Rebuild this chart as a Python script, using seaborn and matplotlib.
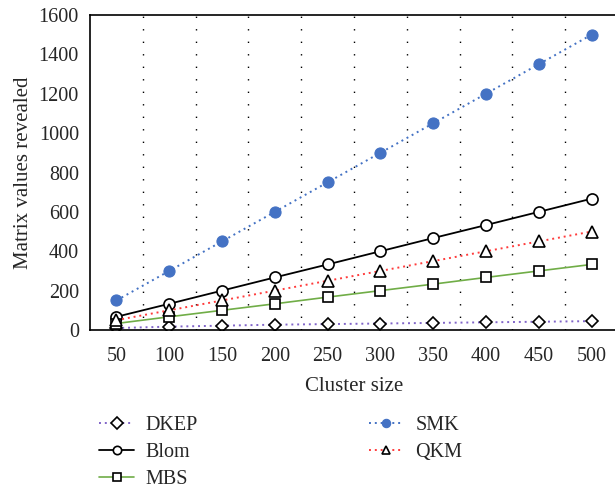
import numpy as np
import pandas as pd
import matplotlib
matplotlib.use("Agg")
import matplotlib.pyplot as plt
import matplotlib.ticker as mticker
import seaborn as sns

# =====================================================
# DATA
# =====================================================

cluster_size = ["50", "100", "150", "200", "250", "300", "350", "400", "450", "500"]

dkep = [10, 17, 22, 27, 30, 33, 36, 39, 42, 45]
blom = [67, 133, 200, 267, 333, 400, 467, 533, 600, 667]
mbs = [33, 67, 100, 133, 167, 200, 233, 267, 300, 333]
smk = [150, 300, 450, 600, 750, 900, 1050, 1200, 1350, 1500]
qkm = [50, 100, 150, 200, 250, 300, 350, 400, 450, 500]

y_ticks = [0, 200, 400, 600, 800, 1000, 1200, 1400, 1600]

# =====================================================
# STYLE
# =====================================================

sns.set_style("white")
plt.rcParams["font.family"] = ["Liberation Serif", "DejaVu Serif"]

dotted = (0, (1, 2))

series = [
    ("DKEP", dkep, dict(color="#8064c8", linestyle=dotted, lw=1.4, marker="D",
                        markersize=6.5, mfc="white", mec="black", mew=1.2)),
    ("Blom", blom, dict(color="black", linestyle="-", lw=1.3, marker="o",
                        markersize=8, mfc="white", mec="black", mew=1.2)),
    ("MBS", mbs, dict(color="#70ad47", linestyle="-", lw=1.2, marker="s",
                      markersize=7.5, mfc="white", mec="black", mew=1.2)),
    ("SMK", smk, dict(color="#4472c4", linestyle=dotted, lw=1.4, marker="o",
                      markersize=8, mfc="#4472c4", mec="#4472c4", mew=0.8)),
    ("QKM", qkm, dict(color="#ff3b3b", linestyle=dotted, lw=1.4, marker="^",
                      markersize=8, mfc="white", mec="black", mew=1.2)),
]

fig = plt.figure(figsize=(6.15, 4.91), dpi=100)
ax = fig.add_axes([90 / 615, 161 / 491, 528 / 615, 315 / 491])

for name, vals, kw in series:
    df = pd.DataFrame({"Cluster size": cluster_size, "value": vals})
    sns.lineplot(data=df, x="Cluster size", y="value", ax=ax, label=name,
                 sort=False, **kw)

# =====================================================
# AXES
# =====================================================

ax.set_xlim(-0.5, len(cluster_size) - 0.5)
ax.set_ylim(0, 1600)
ax.set_yticks(y_ticks)
ax.set_xlabel("Cluster size", fontsize=15, labelpad=8)
ax.set_ylabel("Matrix values revealed", fontsize=15)
ax.yaxis.set_label_coords(-57 / 528, 0.5)
ax.tick_params(axis="both", labelsize=14.5, length=0, pad=8)
ax.tick_params(axis="x", pad=12)

ax.xaxis.set_minor_locator(mticker.FixedLocator(np.arange(0.5, len(cluster_size) - 1, 1.0)))
ax.grid(False)
ax.grid(True, which="minor", axis="x", color="black", linestyle=(0, (1, 8)), lw=1.0)
ax.tick_params(axis="x", which="minor", length=0)

for s in ax.spines.values():
    s.set_visible(True)
    s.set_color("black")
    s.set_linewidth(1.2)

ax.get_legend().remove()
handles, labels = ax.get_legend_handles_labels()
leg = fig.legend(handles, labels, loc="upper left", bbox_to_anchor=(89 / 615, 1 - 406 / 491),
                 ncol=2, frameon=False, fontsize=14.5, handlelength=1.75,
                 handletextpad=0.55, columnspacing=8.5, labelspacing=0.38, borderpad=0)
for h in leg.legend_handles:
    h.set_markersize(6)

plt.savefig("out.png", dpi=100)
plt.close()
